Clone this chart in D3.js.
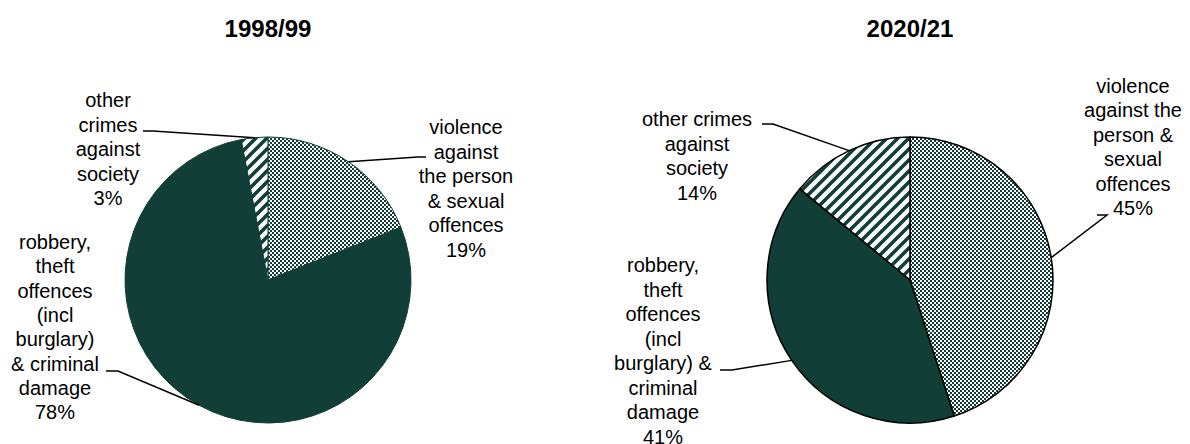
<!DOCTYPE html>
<html>
<head>
<meta charset="utf-8">
<script src="https://cdn.jsdelivr.net/npm/d3@7"></script>
<style>
  html, body { margin: 0; padding: 0; background: #fff; }
  svg { display: block; }
  text { font-family: "Liberation Sans", Arial, sans-serif; fill: #000; }
</style>
</head>
<body>
<svg id="chart" width="1190" height="444"></svg>
<script>
// ---- data ----
const categories = ["violence against the person & sexual offences",
                    "robbery, theft offences (incl burglary) & criminal damage",
                    "other crimes against society"];
const years = ["1998/99", "2020/21"];
const values1998 = [19, 78, 3];
const values2020 = [45, 41, 14];
const labelLines1998 = [
  ["violence", "against", "the person", "& sexual", "offences", "19%"],
  ["robbery,", "theft", "offences", "(incl", "burglary)", "& criminal", "damage", "78%"],
  ["other", "crimes", "against", "society", "3%"]
];
const labelLines2020 = [
  ["violence", "against the", "person &", "sexual", "offences", "45%"],
  ["robbery,", "theft", "offences", "(incl", "burglary) &", "criminal", "damage", "41%"],
  ["other crimes", "against", "society", "14%"]
];

// ---- layout ----
const DARK = "#123E38";
const svg = d3.select("#chart");
const defs = svg.append("defs");

// checker pattern (2px cells)
const C = 2;
const chk = defs.append("pattern").attr("id", "checker")
  .attr("patternUnits", "userSpaceOnUse").attr("width", 2 * C).attr("height", 2 * C);
chk.append("rect").attr("width", 2 * C).attr("height", 2 * C).attr("fill", "#fff");
chk.append("rect").attr("x", 0).attr("y", 0).attr("width", C).attr("height", C).attr("fill", DARK).attr("shape-rendering", "crispEdges");
chk.append("rect").attr("x", C).attr("y", C).attr("width", C).attr("height", C).attr("fill", DARK).attr("shape-rendering", "crispEdges");

// wide upward diagonal stripes
const P = 11;
const str = defs.append("pattern").attr("id", "stripes")
  .attr("patternUnits", "userSpaceOnUse").attr("width", P).attr("height", P);
str.append("rect").attr("width", P).attr("height", P).attr("fill", "#fff");
str.append("path")
  .attr("d", `M0,${P} L${P},0 M${-P/2},${P/2} L${P/2},${-P/2} M${P/2},${P*1.5} L${P*1.5},${P/2}`)
  .attr("stroke", DARK).attr("stroke-width", 3.6);

const fills = ["url(#checker)", DARK, "url(#stripes)"];

const charts = [
  { title: years[0], values: values1998, lines: labelLines1998, cx: 268, cy: 280, r: 143,
    stroke: DARK, strokeW: 1,
    labels: [
      { x: 466, y0: 134, lh: 24.5, elbow: [418, 157], end: [426, 157] },
      { x: 55, y0: 249, lh: 24.3, elbow: [118, 371], end: [106, 371] },
      { x: 108, y0: 107, lh: 24.5, elbow: [153, 131], end: [143, 131] }
    ] },
  { title: years[1], values: values2020, lines: labelLines2020, cx: 910, cy: 280, r: 143,
    stroke: "#000", strokeW: 1.5,
    labels: [
      { x: 1133, y0: 92.5, lh: 24.5, elbow: [1107, 215], end: [1097, 215] },
      { x: 663, y0: 272, lh: 24.5, elbow: [732, 370], end: [720, 370] },
      { x: 697, y0: 126, lh: 24.5, elbow: [773, 124], end: [762, 124] }
    ] }
];

const pie = d3.pie().sort(null).value(d => d);

charts.forEach(c => {
  const g = svg.append("g");
  g.append("text").attr("x", c.cx).attr("y", 37)
    .attr("text-anchor", "middle").attr("font-weight", "bold").attr("font-size", 24)
    .text(c.title);

  const arcs = pie(c.values);
  const arc = d3.arc().innerRadius(0).outerRadius(c.r);
  const pg = g.append("g").attr("transform", `translate(${c.cx},${c.cy})`);
  pg.selectAll("path").data(arcs).join("path")
    .attr("d", arc)
    .attr("fill", (d, i) => fills[i])
    .attr("stroke", c.stroke)
    .attr("stroke-width", c.strokeW)
    .attr("stroke-linejoin", "round");

  // leader lines
  arcs.forEach((a, i) => {
    const L = c.labels[i];
    const mid = (a.startAngle + a.endAngle) / 2;
    const px = c.cx + c.r * Math.sin(mid);
    const py = c.cy - c.r * Math.cos(mid);
    g.append("polyline")
      .attr("points", `${px},${py} ${L.elbow[0]},${L.elbow[1]} ${L.end[0]},${L.end[1]}`)
      .attr("fill", "none").attr("stroke", "#000").attr("stroke-width", 1.5);

    const t = g.append("text").attr("text-anchor", "middle").attr("font-size", 20);
    c.lines[i].forEach((ln, k) => {
      t.append("tspan").attr("x", L.x).attr("y", L.y0 + k * L.lh).text(ln);
    });
  });
});
</script>
</body>
</html>
